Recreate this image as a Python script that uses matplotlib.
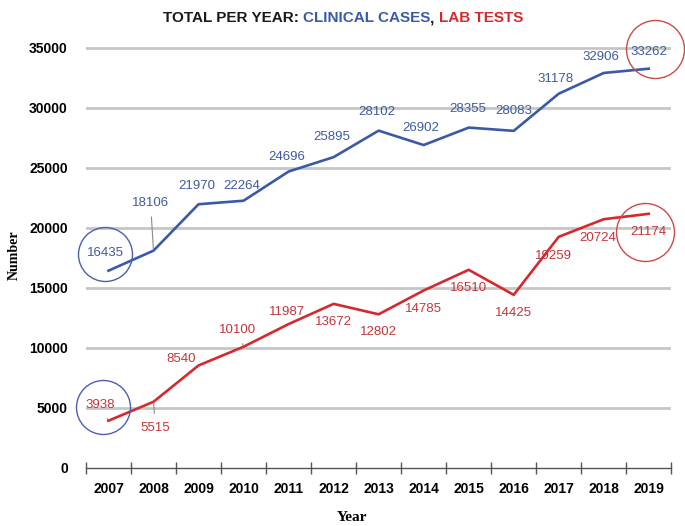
import matplotlib.pyplot as plt
from matplotlib import transforms
import warnings
warnings.filterwarnings('ignore')

years = ['2007', '2008', '2009', '2010', '2011', '2012', '2013',
         '2014', '2015', '2016', '2017', '2018', '2019']
clinical = [16435, 18106, 21970, 22264, 24696, 25895, 28102,
            26902, 28355, 28083, 31178, 32906, 33262]
lab = [3938, 5515, 8540, 10100, 11987, 13672, 12802,
       14785, 16510, 14425, 19259, 20724, 21174]

BLUE = '#3a5aa8'
RED = '#d42a2e'
NARROW = ['Liberation Sans Narrow', 'Liberation Sans', 'DejaVu Sans']
SERIF = ['Liberation Serif', 'DejaVu Serif']

# label offsets (pixels) relative to each point, and which get leader lines
clin_off = [(-3, 18), (-3, 48), (-2, 18), (-2, 15), (-2, 15), (-2, 20), (-2, 19),
            (-3, 17), (-1, 19), (0, 20), (-3, 15), (-3, 16), (0, 17)]
lab_off = [(-8, 16), (2, -26), (-17, 6), (-6, 17), (-2, 12), (0, -18), (0, -18),
           (0, -19), (0, -18), (0, -18), (-5, -19), (-6, -19), (0, -18)]
clin_leader = [1]
lab_leader = [0, 1, 3]


def plot_totals():
    fig = plt.figure(figsize=(6.85, 5.26), dpi=100)
    ax = fig.add_axes([0.1255, 0.1103, 0.8545, 0.833])
    x = list(range(len(years)))

    ax.set_xlim(-0.5, len(years) - 0.5)
    ax.set_ylim(0, 36500)

    # 网格线
    for v in range(5000, 35001, 5000):
        ax.axhline(v, color='#c6c6c6', lw=2, zorder=1)
    for s in ['left', 'right', 'top']:
        ax.spines[s].set_visible(False)
    ax.spines['bottom'].set_color('#555555')
    ax.spines['bottom'].set_linewidth(1)

    ax.set_yticks(range(0, 35001, 5000))
    ax.tick_params(axis='y', length=0, pad=13)
    for t in ax.get_yticklabels():
        t.set_family(NARROW); t.set_fontweight('bold'); t.set_fontsize(10)

    ax.set_xticks([i - 0.5 for i in range(len(years) + 1)])
    ax.set_xticklabels([])
    ax.tick_params(axis='x', which='major', direction='inout', length=8,
                   color='#555555', width=1)
    ax.set_xticks(x, minor=True)
    ax.set_xticklabels(years, minor=True, family=NARROW, fontweight='bold', fontsize=10)
    ax.tick_params(axis='x', which='minor', length=0, pad=10)

    ax.plot(x, clinical, color=BLUE, lw=1.9, zorder=3)
    ax.plot(x, lab, color=RED, lw=1.9, zorder=3)

    # 数值标注
    for series, offs, leaders, col in [(clinical, clin_off, clin_leader, '#3f5b9e'),
                                       (lab, lab_off, lab_leader, '#c2363a')]:
        for i, v in enumerate(series):
            ap = dict(arrowstyle='-', color='#8a8a8a', lw=0.8,
                      shrinkA=4, shrinkB=1) if i in leaders else None
            ax.annotate(str(v), (i, v), xytext=offs[i], textcoords='offset pixels',
                        ha='center', va='center', fontsize=9.5, family=NARROW,
                        color=col, arrowprops=ap, zorder=4)

    # 圆圈
    circles = [(0, clinical[0], -3, 17, 27, '#4a5fae'),
               (0, lab[0], -5, 14, 27, '#4a5fae'),
               (12, clinical[12], 6, 20, 29, '#cc4a4a'),
               (12, lab[12], -4, -18, 29, '#cc4a4a')]
    for i, v, dx, dy, r, c in circles:
        tr = transforms.offset_copy(ax.transData, fig=fig, x=dx, y=dy, units='dots')
        ax.plot([i], [v], marker='o', markersize=2 * r * 72 / 100, markerfacecolor='none',
                markeredgecolor=c, markeredgewidth=1.0, transform=tr, clip_on=False, zorder=5)

    ax.set_xlabel('Year', family=SERIF, fontsize=11, fontweight='bold', va='center')
    ax.xaxis.set_label_coords(0.455, -0.114)
    ax.set_ylabel('Number', family=SERIF, fontsize=10, fontweight='bold', va='center')
    ax.yaxis.set_label_coords(-0.123, 0.486)

    # 多色标题
    parts = [('TOTAL PER YEAR: ', '#1a1a1a'), ('CLINICAL CASES', BLUE),
             (', ', '#1a1a1a'), ('LAB TESTS', RED)]
    renderer = fig.canvas.get_renderer()
    texts = []
    for s, c in parts:
        t = fig.text(0, 0.965, s, color=c, fontsize=11, fontweight='bold',
                     family=NARROW, va='center', ha='left')
        texts.append(t)
    widths = [t.get_window_extent(renderer).width for t in texts]
    x0 = (343 - sum(widths) / 2)
    for t, w in zip(texts, widths):
        t.set_x(x0 / fig.bbox.width)
        x0 += w

    plt.savefig('out.png', dpi=100)
    plt.close()


if __name__ == '__main__':
    plot_totals()
